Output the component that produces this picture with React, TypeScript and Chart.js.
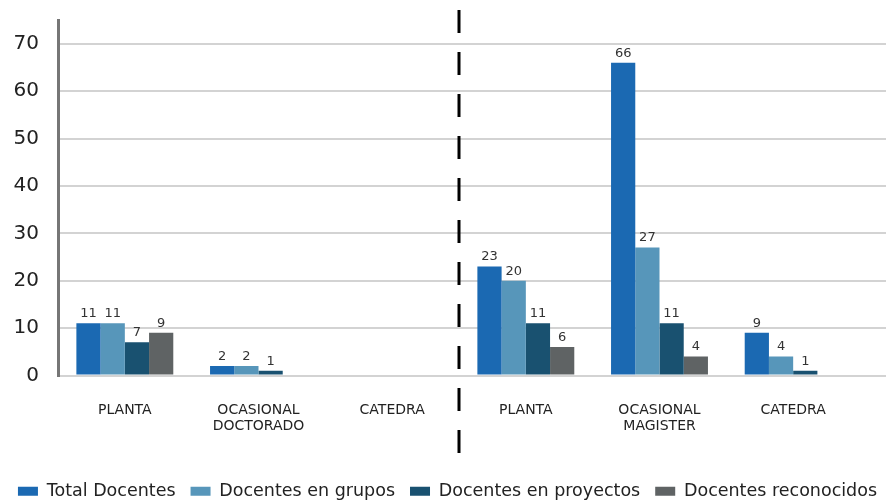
import React, { useEffect, useRef } from "react";
import { Chart, registerables } from "chart.js";

Chart.register(...registerables);

const categories: string[][] = [
  ["PLANTA"],
  ["OCASIONAL", "DOCTORADO"],
  ["CATEDRA"],
  ["PLANTA"],
  ["OCASIONAL", "MAGISTER"],
  ["CATEDRA"],
];

const totalDocentes = [11, 2, null, 23, 66, 9];
const docentesGrupos = [11, 2, null, 20, 27, 4];
const docentesProyectos = [7, 1, null, 11, 11, 1];
const docentesReconocidos = [9, null, null, 6, 4, null];

const seriesNames = [
  "Total Docentes",
  "Docentes en grupos",
  "Docentes en proyectos",
  "Docentes reconocidos",
];
const seriesColors = ["#1b69b2", "#5796ba", "#195170", "#5f6364"];

const yTicks = [0, 10, 20, 30, 40, 50, 60, 70];

const FONT = "'DejaVu Sans', sans-serif";

const valueLabels = {
  id: "valueLabels",
  afterDatasetsDraw(chart: any) {
    const ctx = chart.ctx;
    ctx.save();
    ctx.font = `13px ${FONT}`;
    ctx.fillStyle = "#333333";
    ctx.textAlign = "center";
    ctx.textBaseline = "bottom";
    chart.data.datasets.forEach((ds: any, di: number) => {
      const meta = chart.getDatasetMeta(di);
      meta.data.forEach((el: any, i: number) => {
        const v = ds.data[i];
        if (v === null || v === undefined) return;
        ctx.fillText(String(v), el.x, el.y - 3);
      });
    });
    ctx.restore();
  },
};

const gridExtend = {
  id: "gridExtend",
  beforeDatasetsDraw(chart: any) {
    const ctx = chart.ctx;
    const y = chart.scales.y;
    const area = chart.chartArea;
    ctx.save();
    ctx.strokeStyle = "#d3d3d3";
    ctx.lineWidth = 2;
    y.ticks.forEach((t: any) => {
      const raw = y.getPixelForValue(t.value);
      const py = Math.round(raw - 1) + 1;
      ctx.beginPath();
      ctx.moveTo(area.right, py);
      ctx.lineTo(chart.width - 9, py);
      ctx.stroke();
    });
    ctx.restore();
  },
};

const divider = {
  id: "divider",
  afterDraw(chart: any) {
    const ctx = chart.ctx;
    const x = chart.scales.x.getPixelForValue(2.5);
    ctx.save();
    ctx.strokeStyle = "#000000";
    ctx.lineWidth = 3;
    ctx.setLineDash([23, 19]);
    ctx.beginPath();
    ctx.moveTo(x, 10);
    ctx.lineTo(x, 456);
    ctx.stroke();
    ctx.restore();
  },
};

export default function App() {
  const ref = useRef<HTMLCanvasElement | null>(null);

  useEffect(() => {
    document.body.style.margin = "0";
    const canvas = ref.current;
    if (!canvas) return;
    const seriesData = [totalDocentes, docentesGrupos, docentesProyectos, docentesReconocidos];
    const chart = new Chart(canvas, {
      type: "bar",
      data: {
        labels: categories,
        datasets: seriesData.map((d, i) => ({
          label: seriesNames[i],
          data: d,
          backgroundColor: seriesColors[i],
          borderWidth: 0,
          categoryPercentage: 0.725,
          barPercentage: 1,
        })),
      },
      options: {
        responsive: false,
        animation: false,
        devicePixelRatio: 1,
        layout: { padding: { top: 20, left: 0, right: 0, bottom: -10 } },
        plugins: {
          legend: {
            position: "bottom",
            labels: {
              boxWidth: 20,
              boxHeight: 9,
              padding: 15,
              color: "#222222",
              font: { family: FONT, size: 17.5 },
            },
          },
          tooltip: { enabled: false },
        },
        scales: {
          x: {
            grid: { display: false },
            border: { display: false },
            ticks: {
              color: "#222222",
              font: { family: FONT, size: 14, lineHeight: 1.15 },
              padding: 19,
              maxRotation: 0,
              autoSkip: false,
            },
            afterFit: (s: any) => {
              s.height = 92;
            },
          },
          y: {
            min: 0,
            max: 75,
            afterBuildTicks: (s: any) => {
              s.ticks = yTicks.map((v) => ({ value: v }));
            },
            grid: { color: "#d3d3d3", lineWidth: 2, drawTicks: false },
            border: { display: true, color: "#767676", width: 3 },
            ticks: {
              color: "#222222",
              font: { family: FONT, size: 20 },
              padding: 19,
            },
            afterFit: (s: any) => {
              s.width = 58;
              s.paddingTop = 0;
              s.paddingBottom = 0;
            },
          },
          yRight: {
            position: "right",
            display: true,
            grid: { display: false, drawTicks: false },
            border: { display: false },
            ticks: { display: false },
            afterFit: (s: any) => {
              s.width = 35;
              s.paddingTop = 0;
              s.paddingBottom = 0;
            },
          },
        },
      },
      plugins: [gridExtend, valueLabels, divider],
    } as any);
    return () => chart.destroy();
  }, []);

  return (
    <div style={{ width: 895, height: 500 }}>
      <canvas ref={ref} width={895} height={500} style={{ display: "block" }} />
    </div>
  );
}
